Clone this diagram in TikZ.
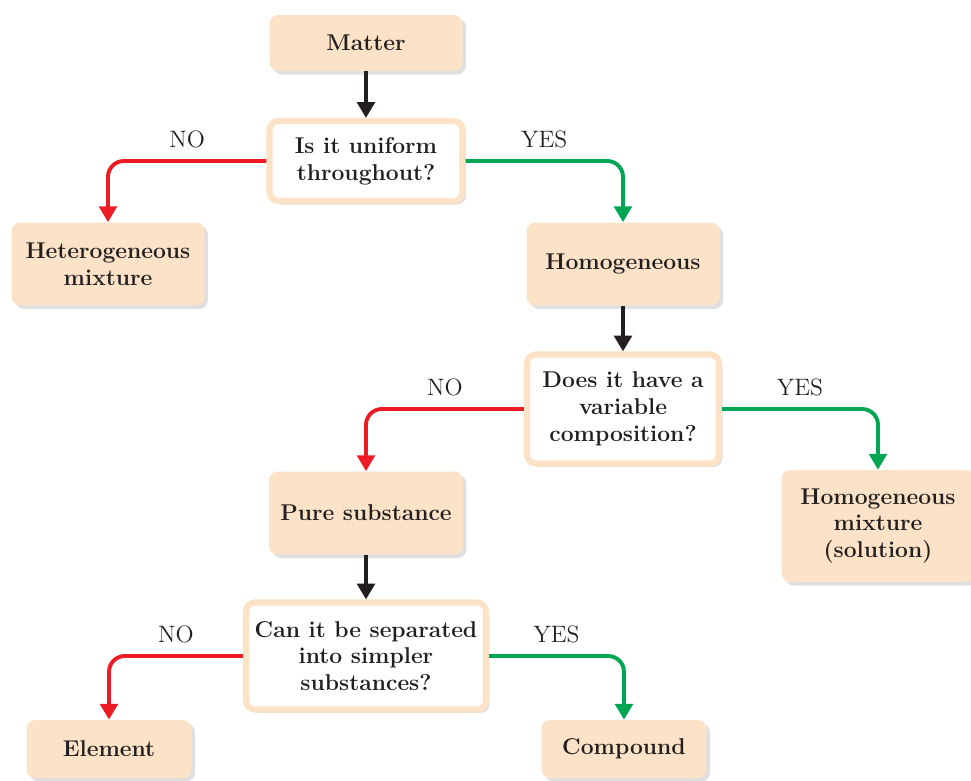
\documentclass[tikz,border=0pt]{standalone}
\usepackage{xcolor}
\usetikzlibrary{arrows.meta, positioning, shadows}
\definecolor{mypeach}{RGB}{252,226,198}
\definecolor{myred}{RGB}{237,28,36}
\definecolor{mygreen}{RGB}{0,166,81}
\definecolor{mydark}{RGB}{35,31,32}
\tikzset{
  block/.style={rectangle, fill=mypeach, align=center, font=\fontsize{13}{15.3}\selectfont\bfseries, text=mydark, rounded corners=5pt, drop shadow={shadow xshift=2pt, shadow yshift=-2pt, opacity=0.25}},
  qblock/.style={block, fill=white, draw=mypeach, line width=3.5pt},
  lbl/.style={font=\fontsize{13.5}{15}\selectfont, text=mydark, above=3pt},
  arrow/.style={-{Triangle[width=10pt,length=9pt]}, line width=2.2pt, color=mydark},
  noarrow/.style={arrow, color=myred, rounded corners=9pt},
  yesarrow/.style={arrow, color=mygreen, rounded corners=9pt}
}
\begin{document}
\begin{tikzpicture}[x=0.02cm, y=-0.02cm]
  \useasboundingbox (0,0) rectangle (971,781);
  \fill[white] (0,0) rectangle (971,781);
  \clip (0,0) rectangle (971,781);

  % Level 1
  \node[block, minimum width=3.86cm, minimum height=1.12cm] (matter) at (366,43) {Matter};
  \node[qblock, minimum width=3.86cm, minimum height=1.60cm] (uniform) at (366,161) {Is it uniform\\throughout?};
  \node[block, minimum width=3.86cm, minimum height=1.66cm] (hetero) at (108,264) {Heterogeneous\\mixture};
  \node[block, minimum width=3.86cm, minimum height=1.66cm] (homog) at (623,264) {Homogeneous};

  % Level 2
  \node[qblock, minimum width=3.84cm, minimum height=2.18cm] (variable) at (623,409) {Does it have a\\variable\\composition?};
  \node[block, minimum width=3.88cm, minimum height=1.66cm] (pure) at (366,513) {Pure substance};
  \node[block, minimum width=3.86cm, minimum height=2.24cm] (solution) at (878,526) {Homogeneous\\mixture\\(solution)};

  % Level 3
  \node[qblock, minimum width=4.80cm, minimum height=2.14cm] (separate) at (366,656) {Can it be separated\\into simpler\\substances?};
  \node[block, minimum width=3.3cm, minimum height=1.16cm] (element) at (109,749) {Element};
  \node[block, minimum width=3.3cm, minimum height=1.16cm] (compound) at (624,749) {Compound};

  % Connectors
  \draw[arrow] (matter.south) -- (uniform.north);
  \draw[noarrow] (uniform.west) -| node[lbl, pos=0.25] {NO} (hetero.north);
  \draw[yesarrow] (uniform.east) -| node[lbl, pos=0.25] {YES} (homog.north);
  \draw[arrow] (homog.south) -- (variable.north);
  \draw[noarrow] (variable.west) -| node[lbl, pos=0.25] {NO} (pure.north);
  \draw[yesarrow] (variable.east) -| node[lbl, pos=0.25] {YES} (solution.north);
  \draw[arrow] (pure.south) -- (separate.north);
  \draw[noarrow] (separate.west) -| node[lbl, pos=0.25] {NO} (element.north);
  \draw[yesarrow] (separate.east) -| node[lbl, pos=0.25] {YES} (compound.north);
\end{tikzpicture}
\end{document}
